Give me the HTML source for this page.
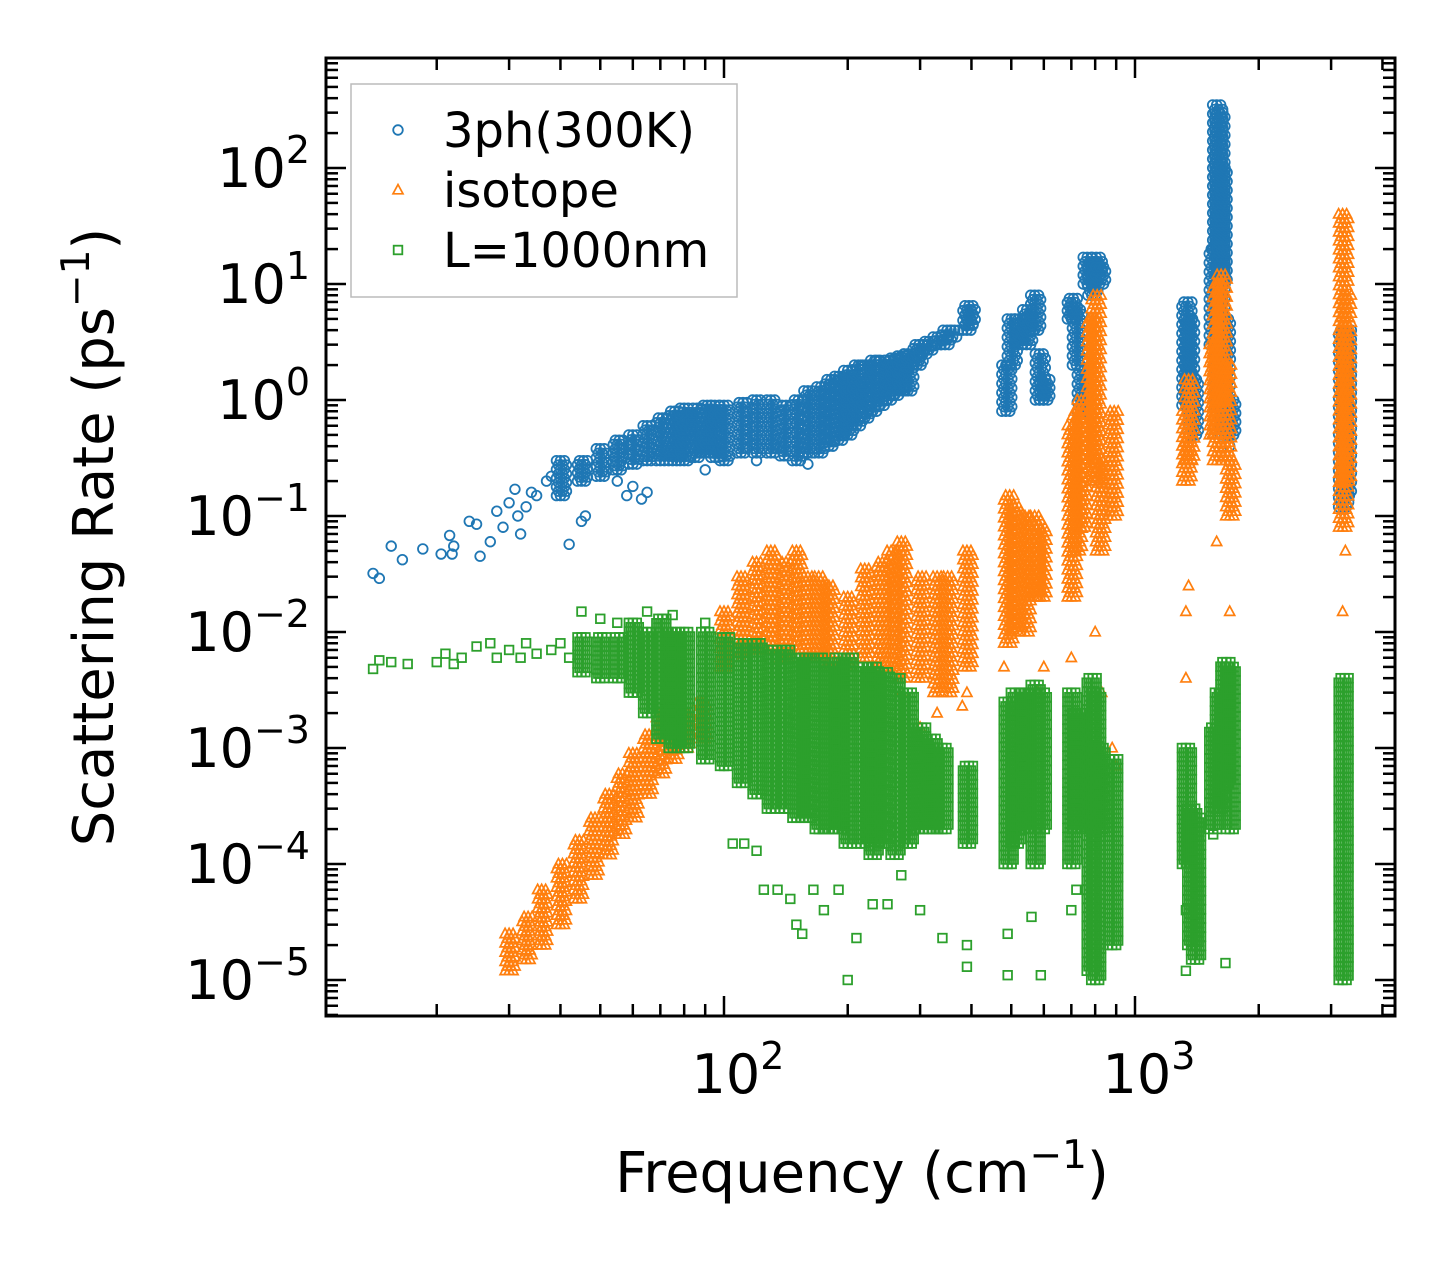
<!DOCTYPE html>
<html><head><meta charset="utf-8">
<style>body{margin:0;background:#fff}svg{display:block;font-family:"DejaVu Sans","Liberation Sans",sans-serif}</style>
</head><body>
<svg id="chart" width="1455" height="1265" viewBox="0 0 1455 1265" xmlns="http://www.w3.org/2000/svg">
<g id="marks"></g>
<g id="axes"></g>
</svg>
<script>
// [freq, rateLow, rateHigh] bands and [freq, rate] scattered points
const blueBands=[[40,0.15,0.3],[45,0.2,0.3],[50,0.22,0.38],[55,0.25,0.45],[60,0.28,0.5],[65,0.3,0.6],[70,0.3,0.7],[75,0.3,0.8],[80,0.3,0.85],[85,0.32,0.85],[90,0.35,0.9],[95,0.32,0.9],[100,0.3,0.9],[110,0.35,0.95],[120,0.35,1.0],[130,0.35,1.0],[140,0.33,0.9],[150,0.3,1.0],[160,0.35,1.2],[170,0.35,1.3],[180,0.4,1.5],[190,0.45,1.6],[200,0.5,1.8],[210,0.6,2],[220,0.7,2],[230,0.8,2.2],[240,0.9,2.2],[250,1,2.2],[260,1.1,2.3],[270,1.2,2.4],[280,1.2,2.5],[295,2,3],[305,2.5,3],[315,2.7,3.2],[330,3,3.5],[345,3,4],[360,3.5,4],[390,4,6.5],[395,4.5,6],[485,0.8,2],[500,2,5],[520,3,5],[545,3,6],[570,4,8],[585,1,2.5],[600,1,1.5],[700,5,7.5],[720,2,6],[740,0.8,1.8],[765,10,17],[785,8,15],[805,12,17],[820,10,14],[1330,0.9,7],[1350,1,5],[1380,0.5,1.5],[1550,3,20],[1580,20,350],[1600,0.8,300],[1620,10,100],[1650,0.5,5],[1700,0.5,1],[3200,0.12,4],[3250,0.15,4]];
const bluePts=[[14,0.032],[14.5,0.029],[15.5,0.055],[16.5,0.042],[18.5,0.052],[20.5,0.047],[21.5,0.068],[22,0.055],[21.8,0.047],[24,0.09],[25,0.085],[25.5,0.045],[27,0.06],[28,0.11],[29,0.08],[30,0.13],[31,0.17],[31.5,0.1],[32,0.07],[33,0.12],[34,0.16],[35,0.15],[37,0.2],[38,0.22],[42,0.057],[45,0.09],[46,0.1],[55,0.2],[58,0.15],[60,0.18],[63,0.14],[65,0.16],[90,0.25],[120,0.3],[160,0.28],[1640,8],[1700,0.4]];
const orangeBands=[[30,1.2e-5,2.5e-5],[33,1.5e-5,3.5e-5],[36,2e-5,6e-5],[40,3e-5,1e-4],[44,5e-5,1.6e-4],[48,8e-5,2.5e-4],[52,1.2e-4,4e-4],[56,1.8e-4,6e-4],[60,2.5e-4,9e-4],[65,4e-4,1.3e-3],[70,6e-4,2e-3],[75,8e-4,2e-3],[80,1e-3,2e-3],[88,1.2e-3,2.5e-3],[100,5e-3,1.5e-2],[110,6e-3,3e-2],[120,7e-3,4e-2],[130,7e-3,5e-2],[140,6e-3,4e-2],[150,7e-3,5e-2],[160,6e-3,3e-2],[170,6e-3,3e-2],[180,5e-3,2.5e-2],[200,5e-3,2e-2],[220,6e-3,3.5e-2],[240,5e-3,4e-2],[255,5e-3,5e-2],[270,4e-3,6e-2],[300,4e-3,3e-2],[330,3e-3,3e-2],[350,3e-3,3e-2],[390,5e-3,5e-2],[490,8e-3,0.15],[510,0.01,0.12],[540,0.01,0.1],[570,0.02,0.1],[590,0.02,0.08],[700,0.02,0.6],[720,0.05,0.8],[740,0.08,1],[780,0.3,5],[800,0.2,8],[820,0.05,0.3],[880,0.1,0.8],[1330,0.2,0.8],[1350,0.3,1.5],[1550,0.5,3],[1580,0.3,10],[1620,1,12],[1660,0.3,2],[1700,0.1,0.3],[3200,0.08,40],[3250,0.2,8]];
const orangePts=[[100,6e-3],[240,4e-3],[270,3e-3],[300,1.5e-3],[330,2e-3],[380,2.3e-3],[390,3e-3],[480,5e-3],[500,2e-3],[580,3e-3],[600,5e-3],[700,6e-3],[800,1e-2],[830,3e-3],[880,1e-3],[900,7e-4],[1330,4e-3],[1330,1.5e-2],[1350,2.5e-2],[1700,0.015],[1580,0.06],[3200,0.015],[3250,0.05]];
const greenBands=[[45,4.5e-3,9e-3],[50,4e-3,9e-3],[55,4e-3,9e-3],[60,3e-3,1.2e-2],[65,2e-3,1e-2],[70,1.2e-3,1.3e-2],[75,1e-3,1e-2],[80,1e-3,1e-2],[90,8e-4,1e-2],[100,7e-4,9e-3],[110,5e-4,8e-3],[120,4e-4,8e-3],[130,3e-4,7e-3],[140,3e-4,7e-3],[150,2.5e-4,6e-3],[160,2.5e-4,6e-3],[170,2e-4,6e-3],[180,2e-4,5e-3],[190,2e-4,6e-3],[200,1.5e-4,6e-3],[215,1.5e-4,5e-3],[230,1.2e-4,5e-3],[245,1.5e-4,4.5e-3],[260,1.2e-4,4e-3],[280,1.5e-4,3e-3],[300,2e-4,1.5e-3],[320,2e-4,1.2e-3],[340,2e-4,1e-3],[390,1.5e-4,7e-4],[490,1e-4,2.5e-3],[510,1.5e-4,3e-3],[540,2e-4,3e-3],[570,1e-4,3.5e-3],[590,2e-4,3e-3],[700,1e-4,3e-3],[720,2e-4,2e-3],[780,1.2e-5,4e-3],[800,1e-5,3e-3],[820,2e-4,1e-3],[880,2e-5,8e-4],[1330,1e-4,1e-3],[1370,2e-5,3e-4],[1400,1.5e-5,2.5e-4],[1550,2e-4,1.5e-3],[1600,3e-4,3e-3],[1650,5e-4,5.5e-3],[1700,2e-4,5e-3],[3200,1e-5,4e-3]];
const greenPts=[[14,4.8e-3],[14.5,5.7e-3],[15.5,5.5e-3],[17,5.3e-3],[20,5.5e-3],[21,6.5e-3],[22,5.3e-3],[23,6e-3],[25,7.5e-3],[27,8e-3],[28,6e-3],[30,7e-3],[32,6e-3],[33,8e-3],[35,6.5e-3],[38,7e-3],[40,8e-3],[42,6e-3],[45,1.5e-2],[50,1.3e-2],[55,1.2e-2],[65,1.5e-2],[75,1.4e-2],[90,1.2e-2],[105,1.5e-4],[112,1.5e-4],[120,1.3e-4],[125,6e-5],[135,6e-5],[145,5e-5],[150,3e-5],[155,2.5e-5],[165,6e-5],[175,4e-5],[190,6e-5],[200,1e-5],[210,2.3e-5],[230,4.5e-5],[250,4.5e-5],[270,8e-5],[300,4e-5],[340,2.3e-5],[390,2e-5],[390,1.3e-5],[490,2.5e-5],[490,1.1e-5],[560,3.5e-5],[590,1.1e-5],[700,4e-5],[720,6e-5],[1330,1.2e-5],[1330,4e-5],[1660,1.4e-5],[1550,1.8e-4],[3200,1.1e-5]];
const xTickVals=[100,1000];
const xTickLabels=["2","3"];
const yTickVals=[1e2,1e1,1e0,1e-1,1e-2,1e-3,1e-4,1e-5];
const yTickLabels=["2","1","0","\u22121","\u22122","\u22123","\u22124","\u22125"];
const legendLabels=["3ph(300K)","isotope","L=1000nm"];

const L=326,R=1395,T=58,B=1016;
const xDec=411, x100=724, yDec=116, y1=400;
function xs(f){return x100+(Math.log10(f)-2)*xDec;}
function ys(v){return y1-Math.log10(v)*yDec;}
const NS="http://www.w3.org/2000/svg";
const marks=document.getElementById('marks'), axes=document.getElementById('axes');
function mk(tag,attrs,parent){const e=document.createElementNS(NS,tag);for(const k in attrs)e.setAttribute(k,attrs[k]);parent.appendChild(e);return e;}
function marker(type,x,y,g){
  if(type==='c') return mk('circle',{cx:x,cy:y,r:4.8,fill:'none',stroke:'#1f77b4','stroke-width':1.8},g);
  if(type==='t') return mk('polygon',{points:`${x},${y-5.5} ${x-5},${y+3.8} ${x+5},${y+3.8}`,fill:'none',stroke:'#ff7f0e','stroke-width':1.7},g);
  return mk('rect',{x:x-4.3,y:y-4.3,width:8.6,height:8.6,fill:'none',stroke:'#2ca02c','stroke-width':1.8},g);
}
function series(type,bands,pts,name){
  const g=mk('g',{},marks);
  
  
  bands.forEach(b=>{
    const x=xs(b[0]),ya=ys(b[1]),yb=ys(b[2]);
    const n=Math.max(1,Math.round((ya-yb)/4.5));
    for(let i=0;i<=n;i++){
      const y=ya+(yb-ya)*i/n;
      for(let dx=-4;dx<=4;dx+=4) marker(type,x+dx+((i%2)?2:0),y,g);
    }
  });
  pts.forEach(p=>marker(type,xs(p[0]),ys(p[1]),g));
}
series('c',blueBands,bluePts,'series-3ph');
series('t',orangeBands,orangePts,'series-isotope');
series('s',greenBands,greenPts,'series-boundary');

const fr=mk('rect',{x:L,y:T,width:R-L,height:B-T,fill:'none',stroke:'#000','stroke-width':3},axes);

for(let d=1;d<=4;d++){for(let m=1;m<10;m++){const v=m*Math.pow(10,d);const x=xs(v);if(x<L||x>R)continue;const len=m===1?20:12;
  mk('line',{x1:x,y1:B,x2:x,y2:B-len,stroke:'#000','stroke-width':2.5},axes);
  mk('line',{x1:x,y1:T,x2:x,y2:T+len,stroke:'#000','stroke-width':2.5},axes);}}
for(let d=-6;d<=3;d++){for(let m=1;m<10;m++){const v=m*Math.pow(10,d);const y=ys(v);if(y<T||y>B)continue;const len=m===1?20:12;
  mk('line',{x1:L,y1:y,x2:L+len,y2:y,stroke:'#000','stroke-width':2.5},axes);
  mk('line',{x1:R,y1:y,x2:R-len,y2:y,stroke:'#000','stroke-width':2.5},axes);}}
xTickVals.forEach((v,i)=>{const t=mk('text',{x:xs(v)+14,y:1093,'font-size':54,'text-anchor':'middle'},axes);
  
  t.innerHTML=`10<tspan dy="-24" font-size="38">${xTickLabels[i]}</tspan>`;});
yTickVals.forEach((v,i)=>{const t=mk('text',{x:310,y:ys(v)+19,'font-size':54,'text-anchor':'end'},axes);
  
  t.innerHTML=`10<tspan dy="-24" font-size="38">${yTickLabels[i]}</tspan>`;});
const xt=mk('text',{x:862,y:1192,'font-size':56,'text-anchor':'middle'},axes);

xt.innerHTML='Frequency (cm<tspan dy="-24" font-size="39">\u22121</tspan><tspan dy="24">)</tspan>';
const yt=mk('text',{x:0,y:0,'font-size':56,'text-anchor':'middle',transform:'translate(113,537) rotate(-90)'},axes);

yt.innerHTML='Scattering Rate (ps<tspan dy="-24" font-size="39">\u22121</tspan><tspan dy="24">)</tspan>';
const lg=mk('g',{},axes);

mk('rect',{x:351,y:84,width:386,height:213,fill:'#fff',stroke:'#bbb','stroke-width':1.5},lg);
['c','t','s'].forEach((t,i)=>{const y=130+i*60;marker(t,398,y,lg);
  const tx=mk('text',{x:443,y:y+17,'font-size':48},lg);
  
  tx.textContent=legendLabels[i];});
</script>
</body></html>
